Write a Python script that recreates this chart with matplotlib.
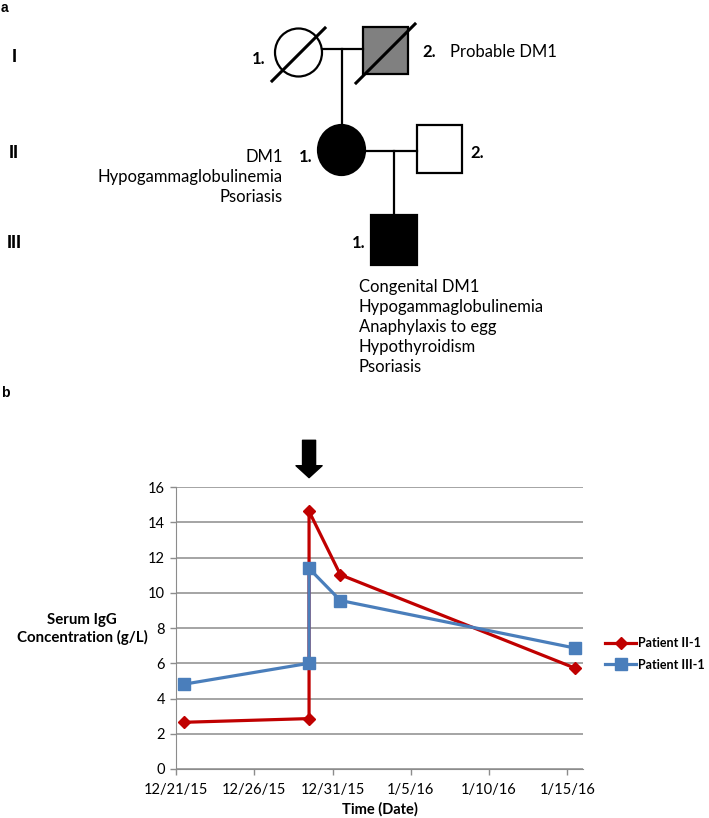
import numpy as np
import pandas as pd
import matplotlib
matplotlib.use('Agg')
import matplotlib.pyplot as plt
from matplotlib.patches import Ellipse, Rectangle

plt.rcParams['font.family'] = ['Lato', 'DejaVu Sans']

# serum IgG data (g/L)
dates = ['2015-12-21 12:00', '2015-12-29 12:00', '2015-12-29 12:00',
         '2015-12-31 12:00', '2016-01-15 12:00']
igg_ii1 = [2.65, 2.86, 14.62, 11.02, 5.72]
igg_iii1 = [4.81, 6.00, 11.38, 9.56, 6.86]
tick_dates = ['2015-12-21', '2015-12-26', '2015-12-31', '2016-01-05', '2016-01-10', '2016-01-15']
tick_labels = ['12/21/15', '12/26/15', '12/31/15', '1/5/16', '1/10/16', '1/15/16']
infusion_date = '2015-12-29 12:00'

W, H = 709, 818
fig = plt.figure(figsize=(W / 100, H / 100), dpi=100)

# pedigree drawn in pixel coordinates
ped = fig.add_axes([0, 0, 1, 1])
ped.set_xlim(0, W)
ped.set_ylim(H, 0)
ped.axis('off')

lw = 1.6
ped.add_patch(Ellipse((298.5, 52.5), 47, 48, facecolor='white', edgecolor='black', lw=lw))
ped.plot([272, 325], [81, 28], color='black', lw=2.2)
ped.add_patch(Rectangle((363, 27), 45, 47, facecolor='#808080', edgecolor='black', lw=lw))
ped.plot([356, 415], [83, 24], color='black', lw=2.2)
ped.plot([322, 363], [49, 49], color='black', lw=lw)
ped.plot([342, 342], [49, 125], color='black', lw=lw)
ped.add_patch(Ellipse((341.5, 150), 47, 50, facecolor='black', edgecolor='black', lw=lw))
ped.plot([365, 417], [151, 151], color='black', lw=lw)
ped.add_patch(Rectangle((417, 125), 45, 48, facecolor='white', edgecolor='black', lw=lw))
ped.plot([394, 394], [151, 215], color='black', lw=lw)
ped.add_patch(Rectangle((371, 215), 46, 50, facecolor='black', edgecolor='black', lw=lw))

fs = 12
ped.text(1, 8, 'a', fontsize=10, fontweight='bold', ha='left', va='center', family='Liberation Sans')
ped.text(1, 393, 'b', fontsize=10, fontweight='bold', ha='left', va='center', family='Liberation Sans')
for lab, y in [('I', 57), ('II', 153), ('III', 243)]:
    ped.text(14, y, lab, fontsize=13, fontweight='bold', ha='center', va='center', family='Liberation Sans')

ped.text(265, 59, '1.', fontsize=fs, fontweight='bold', ha='right', va='center')
ped.text(422, 52, '2.', fontsize=fs, fontweight='bold', ha='left', va='center')
ped.text(450, 52, 'Probable DM1', fontsize=fs, ha='left', va='center')
ped.text(312, 157, '1.', fontsize=fs, fontweight='bold', ha='right', va='center')
ped.text(470, 153, '2.', fontsize=fs, fontweight='bold', ha='left', va='center')
for i, line in enumerate(['DM1', 'Hypogammaglobulinemia', 'Psoriasis']):
    ped.text(283, 157 + 20 * i, line, fontsize=fs, ha='right', va='center')
ped.text(365, 243, '1.', fontsize=fs, fontweight='bold', ha='right', va='center')
for i, line in enumerate(['Congenital DM1', 'Hypogammaglobulinemia', 'Anaphylaxis to egg',
                          'Hypothyroidism', 'Psoriasis']):
    ped.text(359, 287 + 20 * i, line, fontsize=fs, ha='left', va='center')

# IgG chart
ax = fig.add_axes([176 / W, 1 - 769 / H, (583 - 176) / W, (769 - 487) / H])
x = pd.to_datetime(dates)
ax.plot(x, igg_ii1, color='#C00000', lw=2.3, marker='D', ms=6.5, label='Patient II-1', zorder=3)
ax.plot(x, igg_iii1, color='#4A7EBB', lw=2.3, marker='s', ms=8, label='Patient III-1', zorder=3)

ax.set_xlim(pd.Timestamp('2015-12-21'), pd.Timestamp('2016-01-16'))
ax.set_ylim(0, 16)
ax.set_yticks(np.arange(0, 17, 2))
ax.set_xticks(pd.to_datetime(tick_dates))
ax.set_xticklabels(tick_labels)
ax.tick_params(labelsize=10.5, colors='black', length=4, width=1)
ax.tick_params(axis='x', color='#8c8c8c', pad=6)
ax.tick_params(axis='y', color='#8c8c8c', pad=4)
ax.grid(True, axis='y', color='#8c8c8c', lw=1.1)
ax.set_axisbelow(True)
for side in ['top', 'right']:
    ax.spines[side].set_visible(False)
ax.spines['left'].set_color('#8c8c8c')
ax.spines['bottom'].set_color('#8c8c8c')

ax.set_xlabel('Time (Date)', fontsize=10.5, fontweight='bold', labelpad=4)
fig.text(82 / W, 1 - 629 / H, 'Serum IgG\nConcentration (g/L)', fontsize=10.8,
         fontweight='bold', ha='center', va='center', linespacing=1.2)

# arrow marking the infusion
ax.annotate('', xy=(pd.Timestamp(infusion_date), 16.53), xytext=(pd.Timestamp(infusion_date), 18.65),
            arrowprops=dict(arrowstyle='simple,head_length=0.43,head_width=0.94,tail_width=0.47',
                            mutation_scale=20, color='black', shrinkA=0, shrinkB=0),
            annotation_clip=False)

ax.legend(loc='center left', bbox_to_anchor=(605 / W, 1 - 654 / H), bbox_transform=fig.transFigure,
          frameon=False, handlelength=2.5, handletextpad=0.1, labelspacing=0.75,
          borderpad=0, borderaxespad=0, prop={'weight': 'bold', 'size': 9})

fig.savefig('out.png', dpi=100)
